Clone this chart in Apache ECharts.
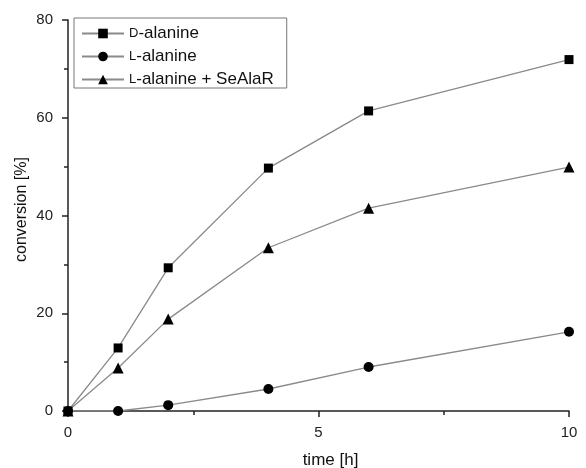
<!DOCTYPE html>
<html>
<head>
    <meta charset="utf-8">
    <title>conversion</title>
    <script src="https://cdn.jsdelivr.net/npm/echarts@6/dist/echarts.min.js"></script>
    <style>
        html, body { margin: 0; padding: 0; background: #fff; }
        #main { width: 586px; height: 468px; }
    </style>
</head>
<body>
    <div id="main"></div>
    <script type="text/javascript">
        // time points [h]
        var times = [0, 1, 2, 4, 6, 10];
        // conversion [%]
        var dAlanine = [0, 12.9, 29.3, 49.7, 61.4, 71.9];
        var lAlanine = [0, 0, 1.2, 4.5, 9.0, 16.2];
        var lAlanineSeAlaR = [0, 8.8, 18.8, 33.4, 41.5, 49.9];

        function pairs(ys) {
            return times.map(function (t, i) { return [t, ys[i]]; });
        }

        var font = 'Liberation Sans, Arial, sans-serif';
        var lineColor = '#8a8a8a';

        var myChart = echarts.init(document.getElementById('main'));

        function makeSeries(name, ys, symbol, size) {
            return {
                name: name,
                type: 'line',
                data: pairs(ys),
                symbol: symbol,
                symbolSize: size,
                showAllSymbol: true,
                lineStyle: { color: lineColor, width: 1.3 },
                itemStyle: { color: '#000' },
                emphasis: { disabled: true },
                z: 3
            };
        }

        var option = {
            animation: false,
            textStyle: { fontFamily: font },
            grid: { left: 68, right: 17, top: 20, bottom: 57, containLabel: false, outerBoundsMode: 'none' },
            legend: {
                left: 74,
                top: 18,
                orient: 'vertical',
                itemWidth: 42,
                itemHeight: 12,
                itemGap: 6,
                padding: [7, 13, 0, 7],
                borderColor: '#777',
                borderWidth: 1,
                textStyle: {
                    fontFamily: font,
                    fontSize: 17,
                    color: '#111',
                    rich: {
                        sc: { fontFamily: font, fontSize: 13, color: '#111' },
                        t: { fontFamily: font, fontSize: 17, color: '#111' }
                    }
                },
                formatter: function (name) {
                    return '{sc|' + name.charAt(0) + '}{t|' + name.slice(1) + '}';
                },
                data: ['D-alanine', 'L-alanine', 'L-alanine + SeAlaR']
            },
            xAxis: {
                type: 'value',
                min: 0,
                max: 10,
                interval: 5,
                name: 'time [h]',
                nameLocation: 'middle',
                nameGap: 41,
                nameMoveOverlap: false,
                nameTextStyle: { fontSize: 17, color: '#111', fontFamily: font, padding: [0, 0, 0, 24] },
                axisLine: { onZero: false, lineStyle: { color: '#222', width: 1.5 } },
                axisTick: { show: true, inside: false, length: 6, lineStyle: { color: '#222', width: 1.5 } },
                minorTick: { show: true, splitNumber: 2, length: 4, lineStyle: { color: '#222', width: 1.5 } },
                axisLabel: { fontSize: 15, color: '#222', margin: 14, fontFamily: font },
                splitLine: { show: false }
            },
            yAxis: {
                type: 'value',
                min: 0,
                max: 80,
                interval: 20,
                name: 'conversion [%]',
                nameLocation: 'middle',
                nameGap: 38,
                nameMoveOverlap: false,
                nameTextStyle: { fontSize: 16, color: '#111', fontFamily: font, padding: [0, 0, 0, 12] },
                axisLine: { show: true, lineStyle: { color: '#222', width: 1.5 } },
                axisTick: { show: true, inside: false, length: 6, lineStyle: { color: '#222', width: 1.5 } },
                minorTick: { show: true, splitNumber: 2, length: 4, lineStyle: { color: '#222', width: 1.5 } },
                axisLabel: { fontSize: 15, color: '#222', margin: 15, fontFamily: font },
                splitLine: { show: false }
            },
            series: [
                makeSeries('D-alanine', dAlanine, 'rect', 9),
                makeSeries('L-alanine', lAlanine, 'circle', 10),
                makeSeries('L-alanine + SeAlaR', lAlanineSeAlaR, 'triangle', 11)
            ]
        };

        myChart.setOption(option);
    </script>
</body>
</html>
